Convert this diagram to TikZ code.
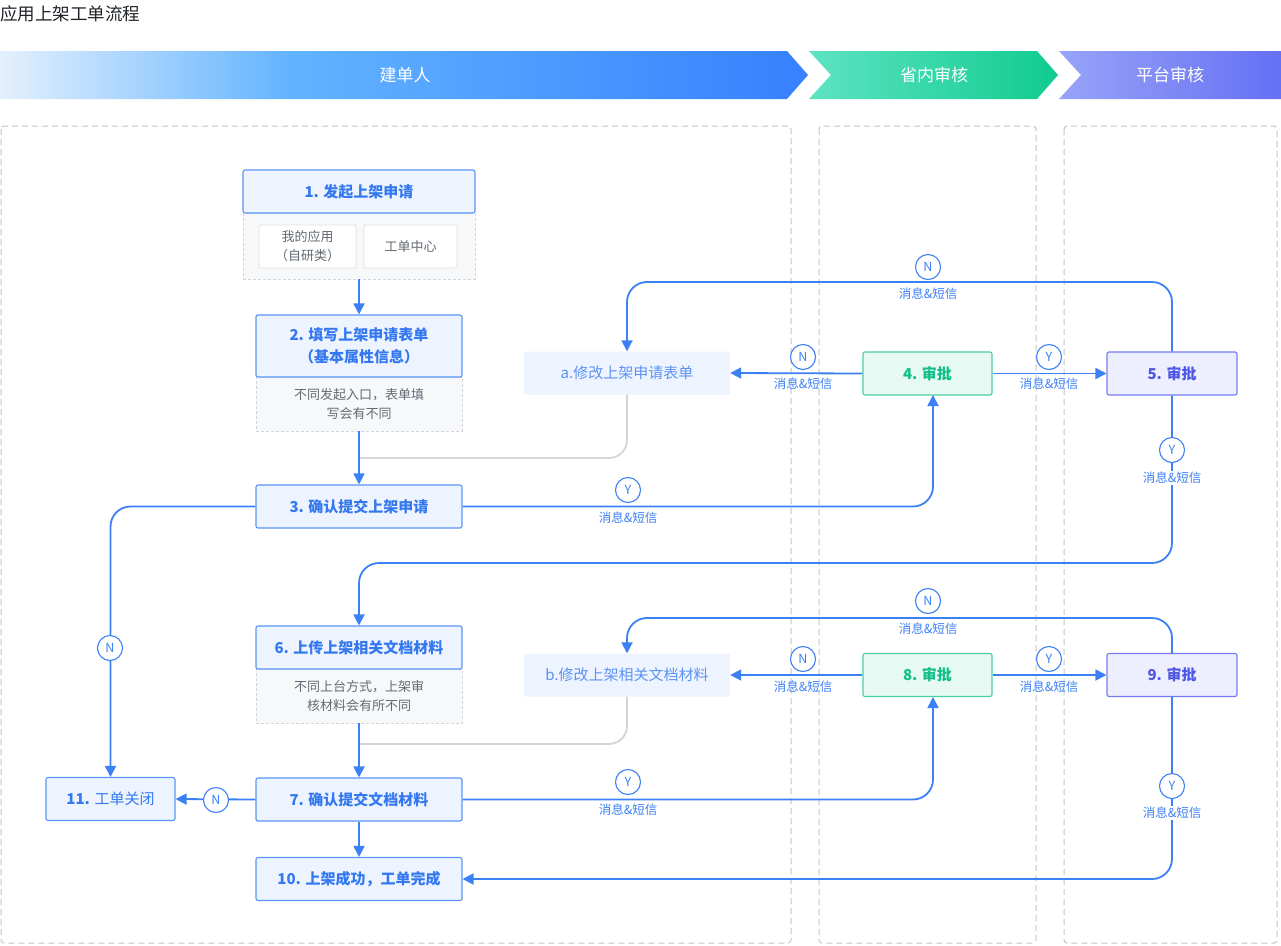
\documentclass[tikz,border=0pt]{standalone}
\usepackage{fontspec}
\setmainfont{Noto Sans CJK SC}
\usetikzlibrary{arrows.meta}

% palette
\definecolor{lineblue}{HTML}{3C80F6}
\definecolor{boxblue}{HTML}{5A95F7}
\definecolor{fillblue}{HTML}{EDF4FF}
\definecolor{textblue}{HTML}{3478F0}
\definecolor{softblue}{HTML}{5C92F2}
\definecolor{greenbd}{HTML}{4ACFA2}
\definecolor{greenfill}{HTML}{E6FAF3}
\definecolor{greentx}{HTML}{12BF88}
\definecolor{violetbd}{HTML}{747CF4}
\definecolor{violetfill}{HTML}{EEEFFE}
\definecolor{violettx}{HTML}{4F56E3}
\definecolor{notefill}{HTML}{F7F8FA}
\definecolor{notebd}{HTML}{D2D4D8}
\definecolor{notetx}{HTML}{646A73}
\definecolor{optbd}{HTML}{DEE0E3}
\definecolor{lanebd}{HTML}{C6C6C6}
\definecolor{backline}{HTML}{D5D5D5}
\definecolor{titletx}{HTML}{1F2329}
\definecolor{hA0}{HTML}{E4F0FD}
\definecolor{hA1}{HTML}{62B3FF}
\definecolor{hA2}{HTML}{3780FF}
\definecolor{hB0}{HTML}{5DE3C2}
\definecolor{hB1}{HTML}{10CB8E}
\definecolor{hC0}{HTML}{98A3F8}
\definecolor{hC1}{HTML}{6570F5}

% header bands
\pgfdeclarehorizontalshading{bandA}{100bp}{color(0bp)=(hA0); color(25bp)=(hA0); color(43bp)=(hA1); color(75bp)=(hA2); color(100bp)=(hA2)}
\pgfdeclarehorizontalshading{bandB}{100bp}{color(0bp)=(hB0); color(25bp)=(hB0); color(75bp)=(hB1); color(100bp)=(hB1)}
\pgfdeclarehorizontalshading{bandC}{100bp}{color(0bp)=(hC0); color(25bp)=(hC0); color(75bp)=(hC1); color(100bp)=(hC1)}

\tikzset{
  lane/.style={draw=lanebd, line width=1pt, dash pattern=on 6pt off 4pt, rounded corners=3pt},
  stepbox/.style={draw=boxblue, fill=fillblue, line width=1.1pt, rounded corners=2pt,
    text=textblue, font=\bfseries\fontsize{15pt}{22pt}\selectfont, align=center,
    minimum width=206pt, minimum height=43pt, inner sep=0pt},
  editbox/.style={fill=fillblue, rounded corners=2pt, text=softblue,
    font=\fontsize{15pt}{22pt}\selectfont, minimum width=206pt, minimum height=43pt, inner sep=0pt},
  provbox/.style={draw=greenbd, fill=greenfill, line width=1.1pt, rounded corners=2pt,
    text=greentx, font=\bfseries\fontsize{15pt}{22pt}\selectfont,
    minimum width=129pt, minimum height=43pt, inner sep=0pt},
  platbox/.style={draw=violetbd, fill=violetfill, line width=1.1pt, rounded corners=2pt,
    text=violettx, font=\bfseries\fontsize{15pt}{22pt}\selectfont,
    minimum width=130pt, minimum height=43pt, inner sep=0pt},
  notebox/.style={draw=notebd, fill=notefill, line width=0.9pt, dash pattern=on 3pt off 2pt,
    text=notetx, font=\fontsize{13pt}{19pt}\selectfont, align=center, inner sep=0pt},
  optbox/.style={draw=optbd, fill=white, line width=0.8pt, rounded corners=2pt,
    text=notetx, font=\fontsize{13pt}{19pt}\selectfont, align=center,
    minimum height=43pt, inner sep=0pt},
  arr/.style={draw=lineblue, line width=1.8pt, rounded corners=20pt,
    -{Triangle[length=11pt,width=11pt]}},
  backarc/.style={draw=backline, line width=1.8pt, rounded corners=18pt},
  yn/.style={circle, draw=lineblue, fill=white, line width=1.1pt, minimum size=25pt,
    inner sep=0pt, text=lineblue, font=\fontsize{12.5pt}{14pt}\selectfont},
  msg/.style={text=lineblue, font=\fontsize{12.5pt}{14pt}\selectfont, inner sep=1pt},
  bandtx/.style={text=white, font=\fontsize{17pt}{20pt}\selectfont}
}

\begin{document}
\begin{tikzpicture}[x=1pt, y=-1pt]
\useasboundingbox[fill=white] (0,0) rectangle (1281,945);

% title
\node[anchor=west, inner sep=0pt, text=titletx, font=\fontsize{17.5pt}{20pt}\selectfont] (title) at (0,14) {应用上架工单流程};

% role bands
\shade[shading=bandA] (0,51) -- (787,51) -- (808,75) -- (787,99) -- (0,99) -- cycle;
\shade[shading=bandB] (809,51) -- (1037,51) -- (1058,75) -- (1037,99) -- (809,99) -- (831,75) -- cycle;
\shade[shading=bandC] (1059,51) -- (1281,51) -- (1281,99) -- (1059,99) -- (1081,75) -- cycle;
\node[bandtx] (roleA) at (405,75) {建单人};
\node[bandtx] (roleB) at (934,75) {省内审核};
\node[bandtx] (roleC) at (1170,75) {平台审核};

% lanes
\draw[lane] (1,126) rectangle (791,943);
\draw[lane] (819,126) rectangle (1036,943);
\draw[lane] (1064,126) rectangle (1277,943);

% step 1 with its entry points
\node[notebox, minimum width=232pt, minimum height=66pt] (c1) at (359,246) {};
\node[stepbox, minimum width=232pt] (n1) at (359,191.5) {1. 发起上架申请};
\node[optbox, minimum width=97pt] (s1a) at (307.5,246.5) {我的应用\\（自研类）};
\node[optbox, minimum width=93pt] (s1b) at (410.5,246.5) {工单中心};

% step 2
\node[notebox, minimum width=206pt, minimum height=54pt] (c2) at (359,404) {不同发起入口，表单填\\写会有不同};
\node[stepbox, minimum height=62pt] (n2) at (359,346) {2. 填写上架申请表单\\（基本属性信息）};

% step 3
\node[stepbox] (n3) at (359,506.5) {3. 确认提交上架申请};

% step 6
\node[notebox, minimum width=206pt, minimum height=54pt] (c6) at (359,696) {不同上台方式，上架审\\核材料会有所不同};
\node[stepbox] (n6) at (359,647.5) {6. 上传上架相关文档材料};

% steps 7, 10, 11
\node[stepbox] (n7) at (359,799.5) {7. 确认提交文档材料};
\node[stepbox] (n10) at (359,879) {10. 上架成功，工单完成};
\node[stepbox, minimum width=129pt] (n11) at (110.5,799) {11. \mdseries 工单关闭};

% edit steps
\node[editbox] (na) at (627,373) {a.修改上架申请表单};
\node[editbox] (nb) at (627,675) {b.修改上架相关文档材料};

% reviews
\node[provbox] (n4) at (927.5,373.5) {4. 审批};
\node[platbox] (n5) at (1172,373.5) {5. 审批};
\node[provbox] (n8) at (927.5,675) {8. 审批};
\node[platbox] (n9) at (1172,675) {9. 审批};

% entry points on the lower edge of the provincial reviews
\coordinate (p4) at (933,395);
\coordinate (p8) at (933,697);

% resubmission paths back into the main column
\coordinate (ja) at (359,458);
\coordinate (jb) at (359,744);
\draw[backarc] (na.south) |- (ja);
\draw[backarc] (nb.south) |- (jb);

% main column
\draw[arr] (c1.south) -- (n2.north);
\draw[arr] (c2.south) -- (n3.north);
\draw[arr] (c6.south) -- (n7.north);
\draw[arr] (n7.south) -- (n10.north);

% first round
\draw[arr] (n3.east) -| (p4);
\draw[arr] (n4.west) -- (na.east);
\draw[arr] (n4.east) -- (n5.west);
\draw[arr] (n5.north) -- (n5.north |- 0,282) -- (na.north |- 0,282) -- (na.north);
\draw[arr] (n5.south) -- (n5.south |- 0,563) -- (n6.north |- 0,563) -- (n6.north);
\draw[arr] (n3.west) -| (n11.north);

% second round
\draw[arr] (n7.east) -| (p8);
\draw[arr] (n8.west) -- (nb.east);
\draw[arr] (n8.east) -- (n9.west);
\draw[arr] (n9.north) -- (n9.north |- 0,618) -- (nb.north |- 0,618) -- (nb.north);
\draw[arr] (n9.south) |- (n10.east);
\draw[arr] (n7.west) -- (n11.east);

% decision marks and notifications
\node[yn] (k1) at (928,267) {N};
\node[msg] (m1) at (928,294) {消息\&短信};
\node[yn] (k2) at (803,357) {N};
\node[msg] (m2) at (803,384) {消息\&短信};
\node[yn] (k3) at (1049,357) {Y};
\node[msg] (m3) at (1049,384) {消息\&短信};
\node[yn] (k4) at (628,490) {Y};
\node[msg] (m4) at (628,518) {消息\&短信};
\node[yn] (k5) at (1172,450) {Y};
\node[msg, fill=white] (m5) at (1172,478) {消息\&短信};
\node[yn] (k6) at (110,648) {N};
\node[yn] (k7) at (928,601) {N};
\node[msg] (m7) at (928,629) {消息\&短信};
\node[yn] (k8) at (803,659) {N};
\node[msg] (m8) at (803,687) {消息\&短信};
\node[yn] (k9) at (1049,659) {Y};
\node[msg] (m9) at (1049,687) {消息\&短信};
\node[yn] (k10) at (628,782) {Y};
\node[msg] (m10) at (628,810) {消息\&短信};
\node[yn] (k11) at (1172,786) {Y};
\node[msg, fill=white] (m11) at (1172,813) {消息\&短信};
\node[yn] (k12) at (216,800) {N};
\end{tikzpicture}
\end{document}
